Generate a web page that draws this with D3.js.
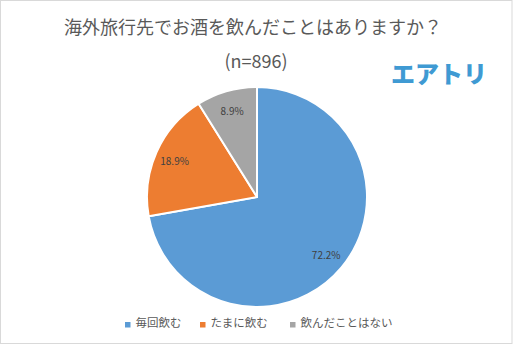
<!DOCTYPE html>
<html>
<head>
<meta charset="utf-8">
<script src="https://cdn.jsdelivr.net/npm/d3@7"></script>
<style>
  html, body { margin: 0; padding: 0; background: #fff; }
  svg { display: block; }
  text { font-family: "Noto Sans CJK JP", "Noto Sans", sans-serif; }
</style>
</head>
<body>
<svg id="chart" width="513" height="345"></svg>
<script>
// Survey: have you drunk alcohol while travelling abroad? (n=896)
const categories = ["毎回飲む", "たまに飲む", "飲んだことはない"];
const shares = [72.2, 18.9, 8.9];
const colors = ["#5b9bd5", "#ed7d31", "#a5a5a5"];
const titleText = "海外旅行先でお酒を飲んだことはありますか？";
const sampleText = "(n=896)";
const brandText = "エアトリ";

const W = 513, H = 345;
const svg = d3.select("#chart");

// outer frame
svg.append("rect")
  .attr("x", 0.5).attr("y", 0.5)
  .attr("width", W - 1.5).attr("height", H - 2)
  .attr("fill", "#fff")
  .attr("stroke", "#d9d9d9");

// titles
svg.append("text")
  .attr("x", 253).attr("y", 34)
  .attr("text-anchor", "middle")
  .attr("font-size", 18)
  .attr("fill", "#595959")
  .text(titleText);

svg.append("text")
  .attr("x", 256).attr("y", 68)
  .attr("text-anchor", "middle")
  .attr("font-size", 18)
  .attr("fill", "#595959")
  .text(sampleText);

// brand mark
svg.append("text")
  .attr("x", 439).attr("y", 83)
  .attr("text-anchor", "middle")
  .attr("font-size", 24)
  .attr("font-weight", 900)
  .attr("fill", "#3f9ad3")
  .text(brandText);

// pie
const cx = 257, cy = 197, r = 110;
const data = categories.map((c, i) => ({ name: c, value: shares[i], color: colors[i] }));
const pie = d3.pie().sort(null).value(d => d.value);
const arcs = pie(data);
const arc = d3.arc().innerRadius(0).outerRadius(r);
const labelArc = d3.arc().innerRadius(r * 0.82).outerRadius(r * 0.82);

const g = svg.append("g").attr("transform", `translate(${cx},${cy})`);
g.selectAll("path.slice")
  .data(arcs)
  .join("path")
  .attr("class", "slice")
  .attr("d", arc)
  .attr("fill", d => d.data.color)
  .attr("stroke", "#fff")
  .attr("stroke-width", 2)
  .attr("stroke-linejoin", "round");

g.selectAll("text.pct")
  .data(arcs)
  .join("text")
  .attr("class", "pct")
  .attr("transform", d => `translate(${labelArc.centroid(d)})`)
  .attr("text-anchor", "middle")
  .attr("dominant-baseline", "central")
  .attr("font-size", 10)
  .attr("fill", "#404040")
  .text(d => d.data.value.toFixed(1) + "%");

// legend
const legend = svg.append("g").attr("transform", "translate(0,321)");
const legendX = d3.scaleOrdinal().domain(categories).range([125, 200, 290]);
const item = legend.selectAll("g.item")
  .data(data)
  .join("g")
  .attr("class", "item")
  .attr("transform", d => `translate(${legendX(d.name)},0)`);
item.append("rect")
  .attr("x", 0).attr("y", 1)
  .attr("width", 5.5).attr("height", 5.5)
  .attr("fill", d => d.color);
item.append("text")
  .attr("x", 10.5).attr("y", 5.5)
  .attr("font-size", 11.5)
  .attr("fill", "#595959")
  .text(d => d.name);
</script>
</body>
</html>
